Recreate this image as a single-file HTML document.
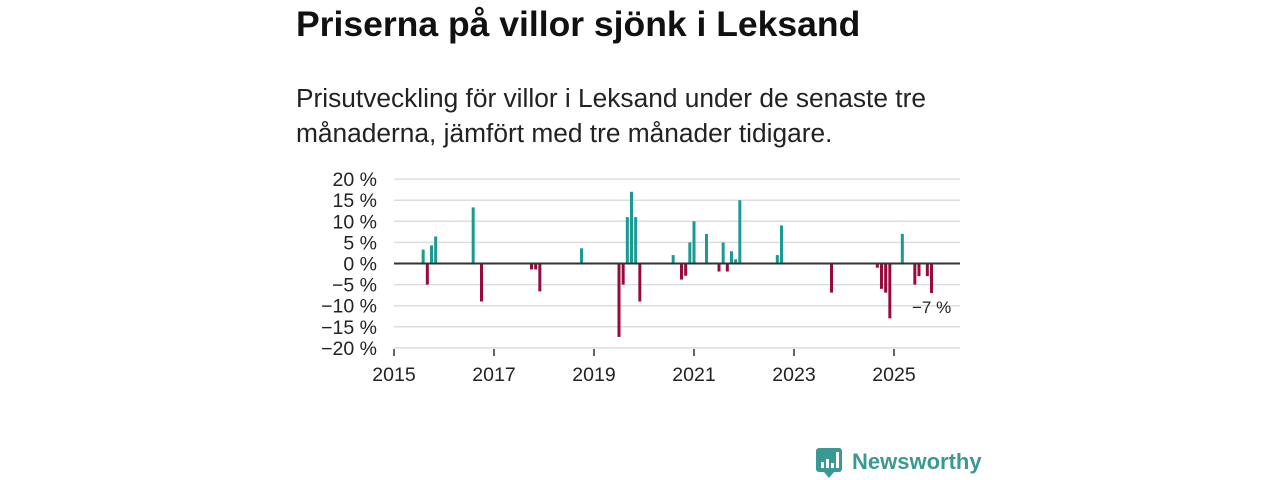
<!DOCTYPE html>
<html><head><meta charset="utf-8"><style>
body{margin:0;background:#fff;width:1280px;height:480px;overflow:hidden;font-family:"Liberation Sans",sans-serif}
</style></head><body>
<svg width="1280" height="480" style="position:absolute;left:0;top:0">
<text x="296" y="36" font-size="35.5" font-weight="bold" fill="#111">Priserna på villor sjönk i Leksand</text>
<text x="296" y="107" font-size="26.3" fill="#222">Prisutveckling för villor i Leksand under de senaste tre</text>
<text x="296" y="142" font-size="26.3" fill="#222">månaderna, jämfört med tre månader tidigare.</text>
<g id="grid"></g><g id="bars"></g><g id="axes"></g>
<text x="912" y="313" font-size="17" fill="#222">−7 %</text>
<g>
<rect x="816" y="448" width="26" height="24" rx="3" fill="#3a9a93"/>
<polygon points="824,472 834,472 829,478" fill="#3a9a93"/>
<rect x="821" y="462" width="3" height="6" fill="#fff"/><rect x="826" y="459" width="3" height="9" fill="#fff"/><rect x="831" y="463" width="3" height="5" fill="#fff"/><rect x="836" y="452" width="3" height="16" fill="#fff"/>
<text x="852" y="469" font-size="22" font-weight="bold" fill="#3a9a93">Newsworthy</text>
</g>
</svg>
<script>
const dates=["2015-08","2015-09","2015-10","2015-11","2016-08","2016-10","2017-10","2017-11","2017-12","2018-10","2019-07","2019-08","2019-09","2019-10","2019-11","2019-12","2020-08","2020-10","2020-11","2020-12","2021-01","2021-04","2021-07","2021-08","2021-09","2021-10","2021-11","2021-12","2022-09","2022-10","2023-10","2024-09","2024-10","2024-11","2024-12","2025-03","2025-06","2025-07","2025-09","2025-10"];
const values=[3.3,-5,4.3,6.4,13.3,-9,-1.4,-1.4,-6.6,3.6,-17.4,-5,11,17,11,-9,2,-3.8,-2.9,5,10,7,-1.9,5,-1.9,2.9,1,15,2,9,-6.9,-1,-6,-6.9,-13,7,-5,-3,-3,-7];
const yTicks=[20,15,10,5,0,-5,-10,-15,-20];
const yTickLabels=["20 %","15 %","10 %","5 %","0 %","−5 %","−10 %","−15 %","−20 %"];
const xTicks=[2015,2017,2019,2021,2023,2025];
const NS="http://www.w3.org/2000/svg";
const x0=394,pxYear=50,y0=263.5,pxPct=4.22;
const xs=d=>{const [y,m]=d.split("-").map(Number);return x0+((y-2015)*12+(m-1))*pxYear/12;};
const xy=y=>x0+(y-2015)*pxYear;
const ys=v=>y0-v*pxPct;
function mk(t,a,p){const e=document.createElementNS(NS,t);for(const k in a)e.setAttribute(k,a[k]);p.appendChild(e);return e;}
const grid=document.getElementById("grid"),bars=document.getElementById("bars"),axes=document.getElementById("axes");
yTicks.forEach((v,i)=>{
 if(v!==0){const l=mk("line",{x1:394,x2:960,y1:ys(v),y2:ys(v),stroke:"#ddd","stroke-width":1.5},grid);
 
 }
 const t=mk("text",{x:377,y:ys(v)+7,"text-anchor":"end","font-size":19.5,fill:"#222"},axes);
 t.textContent=yTickLabels[i];
 
 
});
xTicks.forEach(yr=>{
 const l=mk("line",{x1:xy(yr),x2:xy(yr),y1:349,y2:356,stroke:"#333","stroke-width":1.5},axes);
 
 
 const t=mk("text",{x:xy(yr),y:381,"text-anchor":"middle","font-size":19.5,fill:"#222"},axes);
 t.textContent=yr;
 
 
});
dates.forEach((d,i)=>{
 const v=values[i],x=xs(d);
 const r=mk("rect",{x:x-1.5,width:3,y:Math.min(ys(v),y0),height:Math.abs(ys(v)-y0),fill:v>=0?"#1a9a92":"#990a3c"},bars);
 
 
});
const z=mk("line",{x1:394,x2:960,y1:y0,y2:y0,stroke:"#333","stroke-width":2},axes);


</script>
</body></html>
